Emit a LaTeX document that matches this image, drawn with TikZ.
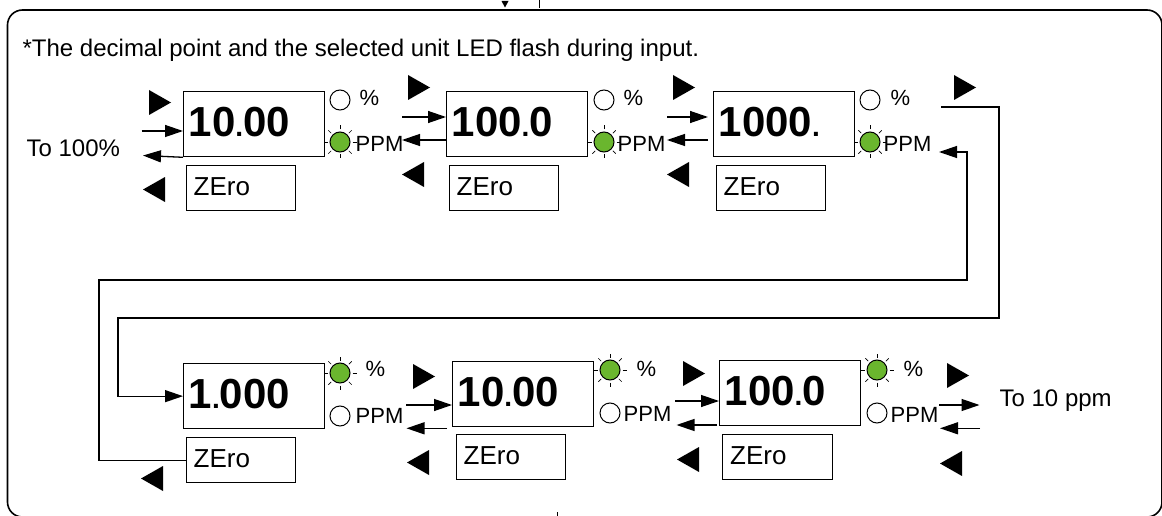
\documentclass[tikz,border=0pt]{standalone}
\usepackage{fontspec}
\setmainfont{Liberation Sans}
\usetikzlibrary{arrows.meta,calc}
\definecolor{ledgreen}{RGB}{106,182,46}
\newcommand{\decpt}{{\fontsize{28}{28}\selectfont.}}
\begin{document}
\begin{tikzpicture}[x=1pt,y=-1pt,line width=1.3pt,
  disp/.style={draw, anchor=north west, minimum width=141pt, minimum height=65pt,
    inner xsep=5pt, inner ysep=0pt, text width=131pt, align=left,
    text height=30pt, text depth=6pt, font=\bfseries\fontsize{42}{42}\selectfont},
  zebox/.style={draw, anchor=north west, minimum width=109pt, minimum height=45pt,
    inner xsep=7pt, inner ysep=0pt, text width=95pt, align=left,
    text height=19pt, text depth=4pt, font=\fontsize{26}{26}\selectfont},
  ledoff/.style={circle, draw, fill=white, minimum size=20pt, inner sep=0pt, line width=1pt},
  ledon/.style={circle, draw, fill=ledgreen, minimum size=20pt, inner sep=0pt, line width=1pt},
  rays/.pic={\foreach \a in {0,45,...,315}{\draw[line width=0.7pt] (\a:12.5) -- (\a:16.5);}},
  rtri/.pic={\fill (0,0) -- (0,25) -- (22,12.5) -- cycle;},
  ltri/.pic={\fill (22,0) -- (22,25) -- (0,12.5) -- cycle;},
  lbl/.style={anchor=west, inner sep=0pt, font=\fontsize{22}{22}\selectfont},
  txt/.style={anchor=base west, inner sep=0pt, font=\fontsize{24}{28}\selectfont},
  arr/.style={-{Triangle[length=18pt,width=12pt]}, line width=1.3pt},
  frame/.style={line width=1.6pt, rounded corners=15pt}
]
\useasboundingbox (0,0) rectangle (1162,516);
\draw[frame] (7.5,10) rectangle (1162,517);
% small marks at the frame edges
\fill (501.5,1) -- (508.5,1) -- (505,7.5) -- cycle;
\draw[line width=1pt] (539,0) -- (539,8);
\draw[line width=0.9pt] (557,512) -- (557,516);

\node[txt] (hdr) at (22,57) {*The decimal point and the selected unit LED flash during input.};

% ---------- top row ----------
\node[disp] (d1) at (183,91) {10\decpt00};
\node[disp] (d2) at (446,91) {100\decpt0};
\node[disp] (d3) at (713,91) {1000\decpt};
\node[zebox] (z1) at (186,165) {ZEro};
\node[zebox] (z2) at (449,165) {ZEro};
\node[zebox] (z3) at (716,165) {ZEro};

\node[ledoff] (l1p) at (340,100) {};
\node[ledon]  (l1m) at (340,142) {};
\node[ledoff] (l2p) at (604,100) {};
\node[ledon]  (l2m) at (604,142) {};
\node[ledoff] (l3p) at (870,100) {};
\node[ledon]  (l3m) at (870,142) {};
\pic at (l1m) {rays};
\pic at (l2m) {rays};
\pic at (l3m) {rays};
\node[lbl] (t1p) at (359,98) {\%};
\node[lbl] (t1m) at (355,144) {PPM};
\node[lbl] (t2p) at (623,98) {\%};
\node[lbl] (t2m) at (617,144) {PPM};
\node[lbl] (t3p) at (890,98) {\%};
\node[lbl] (t3m) at (883,144) {PPM};

\node[txt] (to100) at (26,157) {To 100\%};

\pic at (149,90) {rtri};
\pic at (143,177) {ltri};
\pic at (408,75) {rtri};
\pic at (402,162) {ltri};
\pic at (673,75) {rtri};
\pic at (667,162) {ltri};
\pic at (954,75) {rtri};

\coordinate (a0in) at (141.5,131);
\coordinate (a0out) at (143,155.5);
\draw[arr] (a0in) -- (a0in -| d1.west);
\draw[arr] (d1.south west) -- (a0out);
\coordinate (a1in) at (402,117);
\coordinate (a1out) at (402,140);
\draw[arr] (a1in) -- (a1in -| d2.west);
\draw[arr] (a1out -| d2.west) -- (a1out);
\coordinate (a2in) at (667,117);
\coordinate (a2out) at (667,140);
\draw[arr,shorten >=5pt] (a2in) -- (a2in -| d3.west);
\draw[arr,shorten <=5pt] (a2out -| d3.west) -- (a2out);

% ---------- bottom row ----------
\node[disp] (d4) at (183,363) {1\decpt000};
\node[disp] (d5) at (452,361) {10\decpt00};
\node[disp] (d6) at (719,360) {100\decpt0};
\node[zebox] (z4) at (186,437) {ZEro};
\node[zebox] (z5) at (456,434) {ZEro};
\node[zebox, minimum width=110pt] (z6) at (722,434) {ZEro};

\node[ledon]  (l4p) at (340,373) {};
\node[ledoff] (l4m) at (340,416) {};
\node[ledon]  (l5p) at (610,370) {};
\node[ledoff] (l5m) at (610,413) {};
\node[ledon]  (l6p) at (877,370) {};
\node[ledoff] (l6m) at (877,413) {};
\pic at (l4p) {rays};
\pic at (l5p) {rays};
\pic at (l6p) {rays};
\node[lbl] (t4p) at (365,369) {\%};
\node[lbl] (t4m) at (355,416) {PPM};
\node[lbl] (t5p) at (636,369) {\%};
\node[lbl] (t5m) at (623,414) {PPM};
\node[lbl] (t6p) at (903,369) {\%};
\node[lbl] (t6m) at (890,415) {PPM};

\node[txt] (to10) at (999,406) {To 10 ppm};

\pic at (141,466) {ltri};
\pic at (413,364) {rtri};
\pic at (407,450) {ltri};
\pic at (683,361) {rtri};
\pic at (677,447) {ltri};
\pic at (947,363) {rtri};
\pic at (940,451) {ltri};

\coordinate (b1in) at (406,405);
\coordinate (b1out) at (406.5,428.3);
\draw[arr] (b1in) -- (b1in -| d5.west);
\draw[arr,shorten <=5pt] (b1out -| d5.west) -- (b1out);
\coordinate (b2in) at (675,401);
\coordinate (b2out) at (676.5,425);
\draw[arr] (b2in) -- (b2in -| d6.west);
\draw[arr,shorten <=2pt] (b2out -| d6.west) -- (b2out);
\coordinate (b3a) at (939,405);
\coordinate (b3b) at (979.5,405);
\coordinate (b3c) at (980,428.3);
\coordinate (b3d) at (940,428.3);
\draw[arr] (b3a) -- (b3b);
\draw[arr] (b3c) -- (b3d);

% ---------- loop connectors ----------
\coordinate (o3) at (941,107);
\draw[arr] (o3) -- (999,107) -- (999,318) -- (118,318) |- (d4.west);
\coordinate (r3) at (939,152);
\draw[arr] (z4.west) -| (99,280) -- (967,280) |- (r3);
\end{tikzpicture}
\end{document}
